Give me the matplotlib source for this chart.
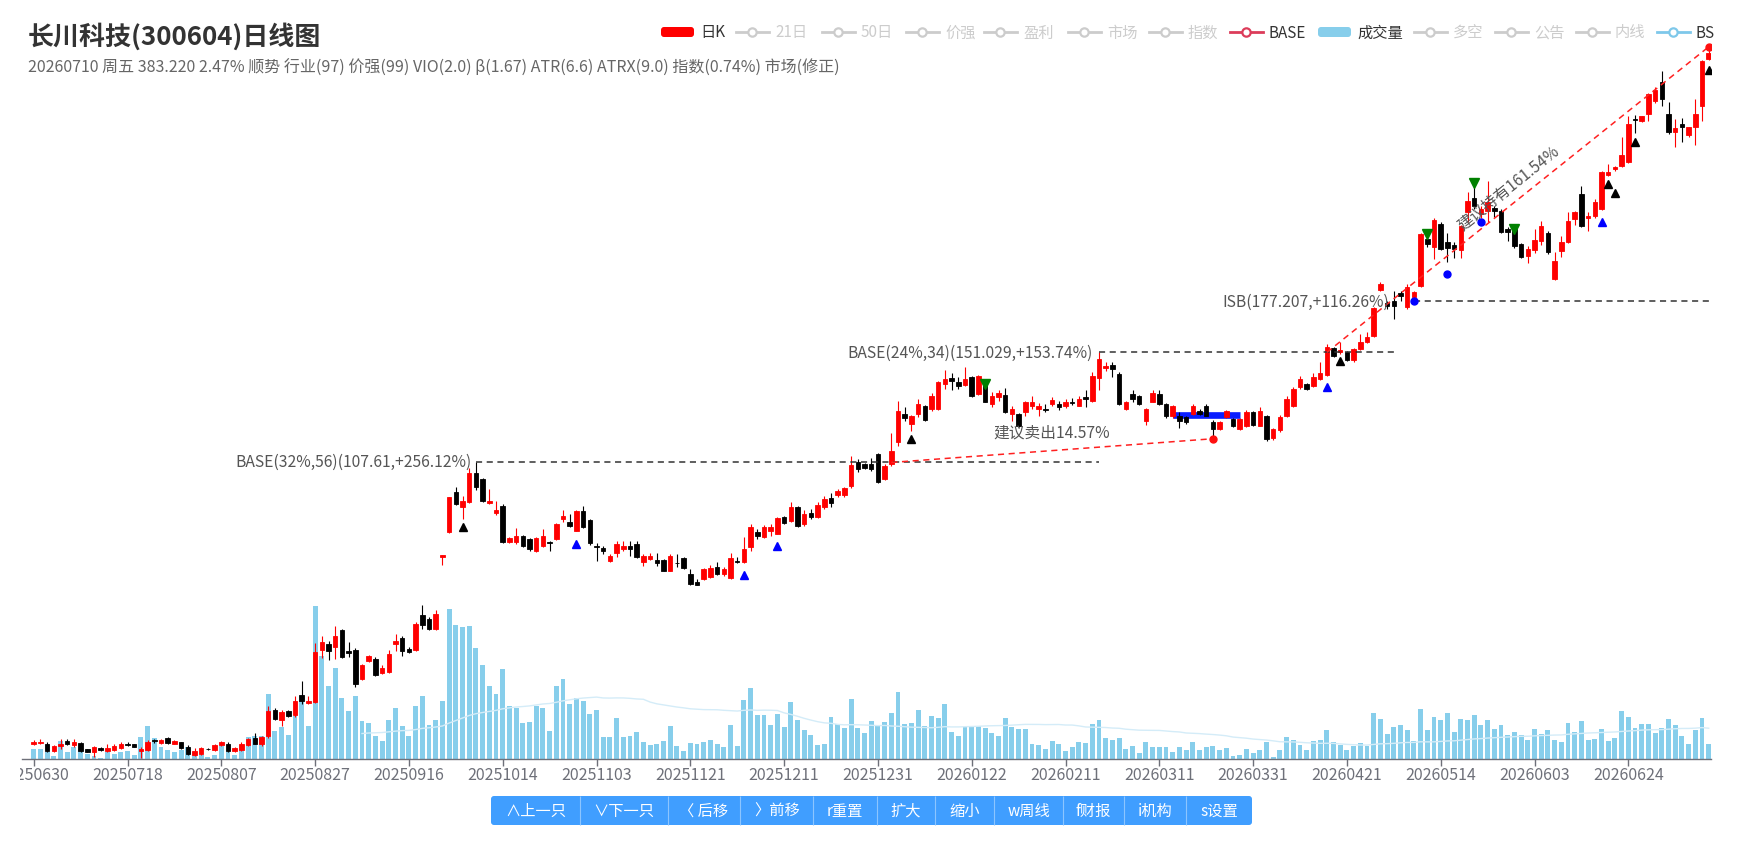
import numpy as np
import matplotlib
matplotlib.use("Agg")
import matplotlib.pyplot as plt
from matplotlib.patches import FancyBboxPatch
from matplotlib.transforms import Bbox

plt.rcParams['font.family'] = ['Noto Sans CJK SC', 'DejaVu Sans']

# ---------------- data ----------------
tick_labels = ["20250630", "20250718", "20250807", "20250827", "20250916", "20251014",
               "20251103", "20251121", "20251211", "20251231", "20260122", "20260211",
               "20260311", "20260331", "20260421", "20260514", "20260603", "20260624"]
tick_step = 14

opens = [
    44.8, 44.9, 44.8, 43.8, 44.5, 45.2, 44.6, 44.9, 44.0, 43.6,
    44.2, 43.8, 43.9, 44.2, 44.8, 44.7, 43.8, 43.9, 45.3, 44.9,
    45.6, 44.8, 45.0, 44.4, 43.2, 43.4, 44.1, 43.9, 44.6, 44.8,
    43.8, 43.9, 44.6, 45.6, 44.7, 45.9, 49.7, 48.2, 49.6, 48.9,
    52.1, 50.9, 51.0, 60.0, 61.0, 60.4, 63.7, 59.7, 60.0, 54.7,
    57.9, 58.3, 55.8, 55.9, 61.0, 62.3, 60.2, 59.9, 66.8, 66.0,
    64.0, 79.9, 86.4, 97.8, 93.4, 94.8, 104.0, 101.9, 94.5, 91.7,
    93.8, 83.7, 83.7, 85.4, 84.6, 81.6, 82.8, 83.9, 84.6, 90.0,
    89.3, 86.8, 92.4, 89.8, 82.8, 82.2, 78.9, 81.0, 82.0, 82.8,
    83.3, 78.8, 79.5, 79.2, 79.3, 76.7, 78.6, 79.7, 75.9, 74.1,
    74.7, 75.1, 77.5, 75.9, 75.0, 79.1, 78.7, 82.4, 86.4, 85.0,
    86.6, 86.0, 90.5, 89.5, 93.4, 88.5, 91.8, 90.5, 93.5, 96.2,
    96.9, 96.9, 99.8, 107.5, 106.7, 106.7, 110.2, 101.9, 106.7, 114.4,
    124.8, 120.9, 124.8, 127.8, 126.7, 126.7, 137.0, 139.3, 137.6, 136.5,
    139.7, 132.7, 137.6, 128.6, 131.6, 132.4, 124.8, 124.8, 125.4, 128.0,
    126.7, 126.7, 128.7, 128.7, 127.8, 129.6, 128.0, 131.4, 130.0, 139.3,
    143.7, 145.0, 141.2, 126.7, 132.7, 131.8, 122.2, 129.6, 132.7, 128.7,
    124.1, 124.1, 123.5, 124.8, 126.0, 128.0, 121.6, 119.0, 123.5, 122.8,
    119.0, 120.3, 125.4, 120.3, 124.1, 115.8, 118.5, 124.1, 128.0, 135.5,
    137.0, 136.2, 139.0, 140.7, 152.9, 151.3, 151.0, 147.3, 152.6, 155.8,
    159.0, 183.5, 176.3, 177.3, 181.6, 173.7, 179.1, 185.8, 214.8, 209.3,
    225.0, 213.0, 211.0, 207.7, 233.7, 243.7, 232.0, 234.4, 236.2, 234.4,
    221.5, 221.5, 211.5, 204.0, 207.7, 213.7, 218.8, 189.7, 206.8, 212.6,
    228.5, 247.0, 229.2, 230.4, 235.7, 262.2, 266.9, 269.1, 273.0, 311.8,
    310.0, 316.6, 329.9, 349.4, 316.6, 299.2, 307.0, 296.2, 303.7, 324.6,
    376.2]

closes = [
    45.0, 45.1, 43.8, 44.5, 44.8, 44.7, 45.0, 43.8, 43.7, 44.4,
    43.9, 44.2, 44.5, 44.8, 44.6, 44.4, 44.0, 45.1, 45.2, 45.3,
    44.9, 45.2, 44.2, 43.4, 43.8, 44.2, 44.0, 44.6, 45.0, 43.8,
    44.2, 44.8, 45.4, 44.8, 45.7, 49.6, 48.4, 49.5, 48.8, 51.2,
    51.2, 51.2, 59.6, 61.5, 59.8, 62.6, 58.6, 59.4, 54.0, 57.2,
    58.8, 55.5, 56.6, 59.2, 61.6, 59.8, 59.6, 65.0, 64.8, 64.0,
    67.0, 80.4, 96.5, 94.3, 95.3, 104.0, 99.3, 95.3, 95.3, 92.7,
    83.7, 84.9, 85.3, 82.7, 82.0, 84.8, 85.5, 83.5, 88.6, 91.0,
    88.0, 92.4, 87.7, 83.6, 82.4, 81.6, 80.2, 83.2, 82.9, 82.0,
    79.9, 80.2, 80.3, 78.4, 76.7, 80.3, 78.4, 77.3, 73.6, 73.4,
    77.1, 77.3, 75.9, 77.1, 79.7, 78.7, 82.0, 87.7, 85.5, 87.7,
    87.7, 90.2, 89.0, 93.4, 88.0, 91.5, 90.5, 94.0, 95.8, 94.5,
    98.1, 99.0, 106.4, 105.1, 105.6, 105.1, 101.0, 106.2, 111.3, 126.0,
    123.1, 123.9, 128.7, 122.5, 132.0, 137.6, 139.0, 138.3, 136.2, 139.0,
    132.1, 140.5, 129.6, 132.0, 133.2, 125.4, 126.7, 120.3, 129.4, 129.6,
    128.0, 126.3, 130.4, 127.4, 129.6, 129.1, 130.7, 130.7, 140.2, 148.0,
    144.6, 143.5, 128.7, 129.4, 130.7, 128.7, 126.7, 133.2, 128.7, 123.9,
    128.0, 122.2, 121.6, 128.0, 124.8, 124.1, 119.0, 121.6, 126.0, 120.3,
    122.8, 125.4, 120.6, 126.0, 115.4, 119.0, 123.5, 130.7, 134.8, 139.0,
    134.8, 139.7, 141.6, 153.8, 149.5, 152.1, 147.7, 152.6, 155.8, 158.2,
    173.1, 186.7, 174.6, 174.6, 180.2, 184.8, 182.0, 218.1, 211.5, 228.0,
    208.2, 208.7, 208.2, 223.3, 241.9, 238.3, 236.0, 240.7, 234.4, 219.2,
    219.6, 209.9, 203.0, 208.2, 214.3, 223.3, 206.0, 200.7, 213.0, 227.1,
    233.3, 223.7, 230.8, 240.8, 264.2, 264.4, 268.3, 278.7, 307.0, 311.0,
    314.4, 336.9, 341.5, 331.7, 299.7, 302.8, 303.7, 303.7, 316.6, 373.6,
    383.22]

highs = [
    45.3, 45.4, 45.0, 44.6, 45.5, 45.5, 45.4, 45.0, 44.1, 44.5,
    44.4, 44.7, 44.8, 45.0, 45.0, 44.8, 44.4, 45.3, 45.5, 45.4,
    45.8, 45.3, 45.1, 44.6, 44.2, 44.3, 44.2, 44.8, 45.2, 45.0,
    44.3, 45.0, 45.6, 46.3, 45.9, 50.4, 50.0, 49.7, 49.8, 51.9,
    54.5, 52.0, 61.2, 62.6, 61.7, 64.6, 64.0, 61.5, 60.3, 57.3,
    59.0, 58.6, 57.2, 60.0, 62.9, 62.5, 60.4, 65.3, 68.9, 66.3,
    67.8, 80.4, 96.5, 99.3, 96.8, 105.6, 107.6, 102.4, 98.8, 95.3,
    94.2, 85.2, 87.5, 85.6, 84.8, 85.0, 87.3, 84.2, 88.9, 92.7,
    91.5, 92.6, 93.6, 90.0, 83.5, 82.8, 80.8, 84.2, 84.2, 84.2,
    84.2, 80.8, 80.9, 80.9, 79.5, 80.8, 80.8, 79.9, 77.1, 74.7,
    77.3, 78.0, 78.7, 77.5, 80.9, 79.9, 85.2, 88.6, 87.3, 88.3,
    88.6, 90.5, 90.9, 94.8, 93.8, 92.5, 93.0, 95.0, 96.8, 97.5,
    98.8, 99.5, 109.6, 108.4, 107.2, 108.9, 110.5, 106.8, 117.5, 130.0,
    127.4, 124.2, 130.7, 128.3, 133.0, 138.3, 143.1, 141.6, 139.7, 144.2,
    140.5, 141.0, 138.3, 133.4, 134.2, 135.1, 128.0, 125.2, 130.0, 131.8,
    129.1, 128.7, 131.3, 130.0, 130.7, 131.0, 132.1, 134.2, 142.0, 151.0,
    146.4, 146.7, 142.0, 129.8, 134.5, 132.2, 127.0, 134.2, 134.2, 129.0,
    128.4, 125.4, 124.0, 128.7, 126.7, 128.7, 122.5, 122.0, 126.4, 123.1,
    123.3, 126.4, 125.8, 127.4, 124.5, 119.5, 124.5, 132.1, 135.5, 140.5,
    137.5, 141.6, 146.4, 155.0, 153.8, 155.8, 151.8, 153.0, 159.9, 160.7,
    174.0, 187.7, 177.3, 183.0, 183.0, 186.7, 183.0, 219.0, 219.7, 229.0,
    226.5, 218.5, 213.0, 224.0, 248.7, 252.1, 238.0, 257.4, 238.2, 235.5,
    222.7, 223.0, 212.0, 210.4, 221.5, 227.0, 220.0, 206.0, 216.9, 233.3,
    234.5, 253.4, 233.3, 243.2, 265.0, 271.0, 269.8, 294.4, 314.9, 316.0,
    315.0, 338.5, 344.0, 362.2, 328.3, 311.8, 312.5, 304.0, 331.7, 374.5,
    387.4]

lows = [
    44.6, 44.8, 43.7, 43.7, 44.0, 44.6, 44.4, 43.7, 43.6, 43.0,
    43.8, 43.7, 43.8, 44.1, 44.5, 44.3, 42.8, 43.8, 44.9, 44.7,
    44.8, 44.7, 44.0, 43.3, 43.1, 43.3, 43.9, 43.8, 44.5, 43.7,
    43.7, 43.8, 44.5, 44.7, 44.5, 45.6, 48.2, 47.4, 48.6, 48.7,
    50.7, 50.6, 50.9, 58.4, 58.1, 58.3, 58.4, 58.6, 53.4, 54.6,
    57.7, 55.2, 55.6, 55.8, 59.8, 58.8, 59.4, 59.7, 63.9, 63.8,
    63.8, 78.0, 86.1, 94.0, 90.0, 94.5, 98.4, 94.8, 94.4, 91.2,
    83.5, 83.5, 83.4, 82.5, 81.6, 81.2, 82.6, 81.6, 84.4, 89.1,
    87.7, 86.7, 87.5, 83.0, 79.1, 80.8, 78.7, 79.9, 81.6, 80.3,
    79.7, 77.9, 79.3, 77.9, 76.5, 76.5, 77.5, 77.1, 73.4, 73.3,
    74.5, 74.9, 75.7, 75.5, 74.8, 78.6, 78.5, 81.6, 84.6, 84.8,
    85.5, 85.8, 88.6, 89.3, 87.7, 88.0, 90.0, 90.2, 93.0, 93.5,
    96.5, 96.5, 99.1, 104.3, 105.0, 104.6, 100.6, 101.5, 106.2, 113.0,
    122.2, 118.4, 123.5, 122.2, 126.0, 126.3, 134.8, 134.5, 134.8, 135.9,
    131.4, 132.3, 129.3, 127.6, 130.0, 125.1, 121.9, 119.8, 123.9, 126.7,
    124.1, 125.4, 127.8, 126.4, 127.0, 128.4, 127.8, 127.4, 129.5, 134.2,
    142.7, 139.7, 128.3, 126.3, 129.6, 128.3, 120.6, 129.3, 128.3, 123.1,
    123.1, 119.6, 121.0, 124.4, 124.4, 123.8, 116.0, 118.5, 123.1, 119.8,
    118.6, 119.8, 120.2, 120.0, 114.8, 115.0, 118.0, 123.5, 127.6, 135.0,
    134.3, 135.8, 138.6, 140.2, 148.7, 150.5, 147.2, 146.8, 152.0, 155.3,
    158.6, 182.5, 172.8, 167.5, 177.3, 173.0, 178.5, 184.9, 209.3, 201.8,
    207.5, 200.0, 202.2, 202.2, 226.2, 235.7, 229.0, 226.2, 229.7, 218.5,
    213.7, 209.0, 202.5, 199.6, 205.6, 211.0, 205.0, 189.0, 203.2, 212.0,
    224.3, 223.0, 220.3, 229.3, 235.0, 261.0, 265.5, 268.3, 272.0, 298.5,
    309.0, 310.0, 328.0, 324.2, 297.6, 286.0, 290.0, 294.5, 287.4, 310.0,
    374.5]

# volume (千手)
volume = [
    10, 10, 7, 3, 18, 7, 12, 10, 5, 3,
    1, 7, 5, 7, 8, 4, 22, 33, 21, 12,
    9, 7, 9, 12, 7, 4, 2, 4, 13, 7,
    4, 10, 22, 23, 23, 65, 28, 32, 24, 43,
    58, 33, 153, 103, 73, 91, 61, 48, 63, 38,
    36, 23, 18, 39, 51, 33, 23, 53, 63, 34,
    39, 58, 150, 134, 132, 133, 111, 94, 73, 65,
    90, 53, 51, 36, 37, 53, 51, 28, 73, 80,
    55, 61, 58, 45, 49, 22, 22, 41, 22, 23,
    27, 17, 14, 15, 18, 33, 13, 8, 16, 15,
    17, 19, 15, 12, 34, 13, 59, 71, 44, 44,
    34, 45, 32, 57, 39, 29, 24, 14, 15, 42,
    35, 31, 60, 31, 26, 38, 33, 37, 46, 67,
    35, 36, 49, 33, 43, 41, 55, 27, 23, 32,
    33, 33, 31, 26, 23, 41, 32, 30, 30, 15,
    14, 10, 18, 15, 8, 12, 17, 16, 35, 39,
    21, 19, 21, 10, 13, 6, 17, 12, 12, 12,
    7, 12, 9, 17, 9, 12, 13, 9, 11, 3,
    4, 10, 6, 9, 17, 2, 9, 22, 19, 14,
    9, 18, 19, 29, 17, 14, 9, 13, 16, 13,
    46, 40, 25, 32, 34, 29, 18, 50, 29, 42,
    39, 46, 27, 40, 39, 44, 34, 39, 30, 34,
    24, 27, 24, 19, 30, 25, 29, 19, 17, 36,
    27, 38, 19, 20, 30, 18, 21, 48, 42, 31,
    35, 35, 26, 31, 40, 34, 23, 15, 29, 41,
    15]
vol_ma_window = 50

# BASE / ISB levels
level_start = [66, 159, 206]
level_end = [159, 203, 250.3]
level_price = [107.61, 151.029, 177.207]
level_text = ["BASE(32%,56)(107.61,+256.12%)", "BASE(24%,34)(151.029,+153.74%)",
              "ISB(177.207,+116.26%)"]
level_text_x = [65.4, 158.1, 202.3]

# signal markers
black_up_idx = [64, 131, 195, 235, 236, 239, 250]
black_up_px = [87.8, 115.4, 147.0, 254.7, 247.8, 290.6, 363.3]
blue_up_idx = [81, 106, 111, 193, 234]
blue_up_px = [83.3, 75.7, 82.7, 135.5, 226.2]
green_dn_idx = [142, 208, 215, 221]
green_dn_px = [136.9, 218.1, 255.6, 221.5]
blue_dot_idx = [206, 211, 216]
blue_dot_px = [177.2, 192.6, 226.6]

sell_idx = [128, 176]
sell_px = [107.3, 115.5]
hold_idx = [193, 250]
hold_px = [151.03, 390.1]
band_idx = [170, 180]
band_px = 124.4

# ---------------- figure ----------------
W, H = 1745, 854
fig = plt.figure(figsize=(W / 100, H / 100), dpi=100)
L, R, T, B = 22, 1711, 40, 760
rect = [L / W, (H - B) / H, (R - L) / W, (B - T) / H]
x0, dx = 33.7, 6.7
xlim = ((L - x0) / dx, (R - x0) / dx)

n = len(closes)
x = np.arange(n)
o = np.array(opens); c = np.array(closes)
hi = np.array(highs); lo = np.array(lows)
vol = np.array(volume, dtype=float)

# volume panel (behind)
axv = fig.add_axes(rect, zorder=1)
axv.bar(x, vol, width=0.74, color='#87ceeb')
ma = np.convolve(vol, np.ones(vol_ma_window) / vol_ma_window, mode='valid')
axv.plot(x[vol_ma_window - 1:], ma, color='#d4ecf8', lw=1.0)
axv.set_xlim(*xlim)
axv.set_ylim(0, 720)
axv.axis('off')

# price panel
ax = fig.add_axes(rect, zorder=2)
ax.patch.set_visible(False)
ax.set_yscale('log')
ax.set_ylim(42.72, 399.7)
ax.set_xlim(*xlim)

cols = np.where(c >= o, '#ff0000', '#000000')
ax.vlines(x, lo, hi, colors=cols, lw=0.8, zorder=3)
ax.bar(x, np.abs(c - o), bottom=np.minimum(o, c), width=0.68,
       color=cols, edgecolor=cols, lw=0.6, zorder=4)

# blue band
ax.plot(band_idx, [band_px, band_px], color='#0a1eff', lw=4.8, solid_capstyle='butt', zorder=2)

# level lines + labels
for s, e, p, t, tx in zip(level_start, level_end, level_price, level_text, level_text_x):
    ax.plot([s, e], [p, p], color='#333333', lw=1.1, ls=(0, (4, 3)), zorder=5)
    ax.text(tx, p, t, ha='right', va='center', fontsize=11.3, color='#555555', zorder=6)

# suggestion lines
ax.plot(sell_idx, sell_px, color='#ff2020', lw=1.1, ls=(0, (4, 3)), zorder=5)
ax.plot(hold_idx, hold_px, color='#ff2020', lw=1.1, ls=(0, (4, 3)), zorder=5)
ax.plot([sell_idx[1], hold_idx[1]], [sell_px[1], hold_px[1]], 'o', color='#ff1010',
        ms=5, ls='none', zorder=7)
ax.text(151.9, 117.9, "建议卖出14.57%", ha='center', va='center', fontsize=11.3,
        color='#555555', zorder=6)
ax.text(220.1, 252.3, "建议持有161.54%", ha='center', va='center', fontsize=11.3,
        color='#555555', rotation=38.6, rotation_mode='anchor', zorder=6)

# markers
ax.plot(black_up_idx, black_up_px, '^', color='black', ms=6, ls='none', zorder=7)
ax.plot(blue_up_idx, blue_up_px, '^', color='#0000ff', ms=6, ls='none', zorder=7)
ax.plot(green_dn_idx, green_dn_px, 'v', color='#008000', ms=7, ls='none', zorder=7)
ax.plot(blue_dot_idx, blue_dot_px, 'o', color='#0000ff', ms=5, ls='none', zorder=7)

# axes styling
for sp in ['top', 'left', 'right']:
    ax.spines[sp].set_visible(False)
ax.spines['bottom'].set_color('#6e7079')
ax.spines['bottom'].set_linewidth(1.0)
ax.tick_params(axis='y', which='both', left=False, labelleft=False)
ticks = np.arange(len(tick_labels)) * tick_step
ax.set_xticks(ticks)
ax.tick_params(axis='x', which='major', length=5, width=1, color='#6e7079',
               labelbottom=False)
ax.tick_params(axis='x', which='minor', length=0)
clip = Bbox.from_extents(20, 0, W, H)
for tk, lab in zip(ticks, tick_labels):
    t = ax.text(tk, -0.021, lab, transform=ax.get_xaxis_transform(), ha='center',
                va='center', fontsize=11.5, color='#6e7079')
    t.set_clip_box(clip)
    t.set_clip_on(True)

# ---------------- overlay: title, legend, buttons ----------------
ov = fig.add_axes([0, 0, 1, 1], zorder=10)
ov.set_xlim(0, W)
ov.set_ylim(H, 0)
ov.axis('off')

ov.text(28, 37, "长川科技(300604)日线图", fontsize=18.7, fontweight='bold',
        color='#333333', va='center', ha='left')
ov.text(28, 68, "20260710 周五 383.220 2.47% 顺势 行业(97) 价强(99) VIO(2.0) β(1.67) "
        "ATR(6.6) ATRX(9.0) 指数(0.74%) 市场(修正)", fontsize=11.5, color='#666666',
        va='center', ha='left')

legend_names = ["日K", "21日", "50日", "价强", "盈利", "市场", "指数", "BASE", "成交量",
                "多空", "公告", "内线", "BS"]
legend_kind = ["rect", "line", "line", "line", "line", "line", "line", "line", "rect",
               "line", "line", "line", "line"]
legend_color = ["#ff0000", "#cccccc", "#cccccc", "#cccccc", "#cccccc", "#cccccc", "#cccccc",
                "#dc3c5a", "#87ceeb", "#cccccc", "#cccccc", "#cccccc", "#7ec8ea"]
legend_active = [True, False, False, False, False, False, False, True, True,
                 False, False, False, True]
legend_x = [661, 736, 822, 906, 984, 1068, 1149, 1230, 1318, 1414, 1495, 1576, 1657]
ly = 33
for nm, kd, cl, act, lx in zip(legend_names, legend_kind, legend_color, legend_active, legend_x):
    if kd == "rect":
        ov.add_patch(FancyBboxPatch((lx, ly - 5), 33, 10,
                                    boxstyle='round,pad=0,rounding_size=3',
                                    fc=cl, ec='none'))
    else:
        ov.plot([lx, lx + 33], [ly, ly], color=cl, lw=2)
        ov.plot(lx + 16.5, ly, 'o', ms=6, mfc='white', mec=cl, mew=1.6)
    ov.text(lx + 39, ly, nm, fontsize=11, va='center', ha='left',
            color='#333333' if act else '#cccccc')

btn_edges = [491, 580, 668, 740, 813.5, 877, 935, 994, 1063, 1124, 1186, 1252]
btn_names = ["∧上一只", "∨下一只", "〈 后移", "〉前移", "r重置", "扩大", "缩小",
             "w周线", "f财报", "i机构", "s设置"]
ov.add_patch(FancyBboxPatch((btn_edges[0], 797), btn_edges[-1] - btn_edges[0], 29,
                            boxstyle='round,pad=0,rounding_size=3', fc='#409eff', ec='none'))
ov.vlines(btn_edges[1:-1], 797, 826, color='#8cc5ff', lw=0.8)
for a, b2, nm in zip(btn_edges[:-1], btn_edges[1:], btn_names):
    ov.text((a + b2) / 2, 811.5, nm, color='white', fontsize=11, ha='center', va='center')

fig.savefig('out.png', dpi=100)
